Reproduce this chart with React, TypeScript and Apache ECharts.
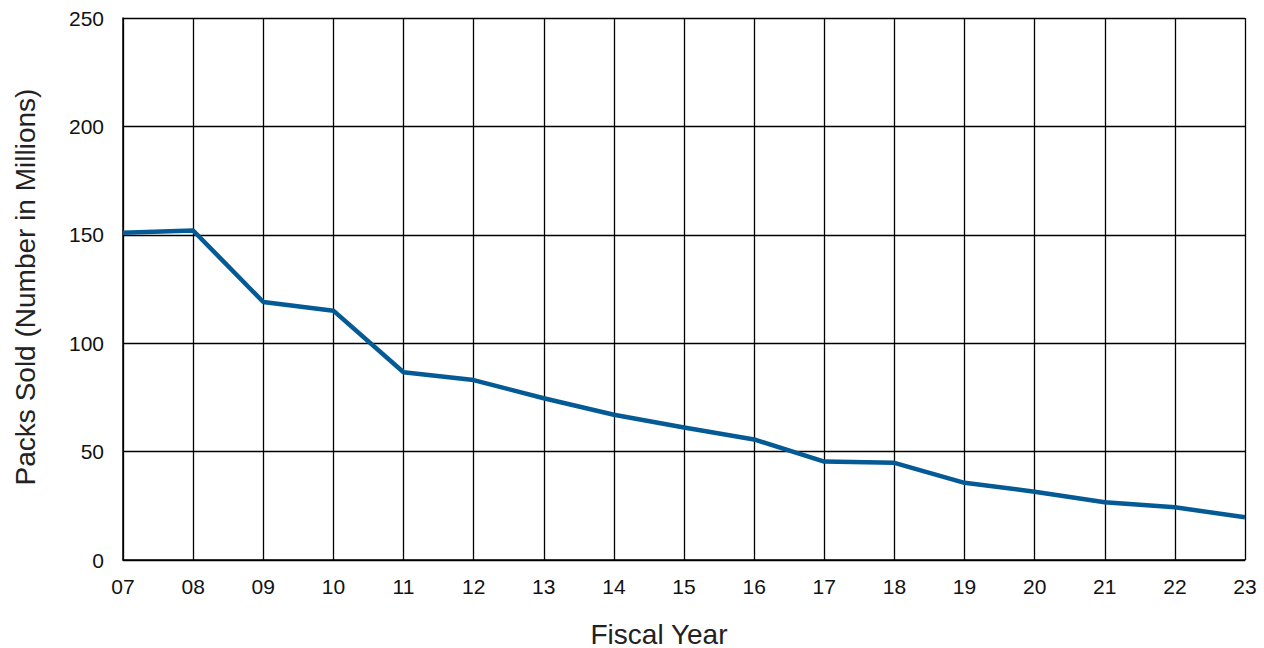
import React, { useEffect, useRef } from "react";
import * as echarts from "echarts";

const years = ["07", "08", "09", "10", "11", "12", "13", "14", "15", "16", "17", "18", "19", "20", "21", "22", "23"];
const packsSold = [151, 152, 119, 115, 86.6, 83, 74.6, 67, 61.1, 55.6, 45.4, 44.8, 35.6, 31.5, 26.6, 24.3, 19.7];
const yTicks = [0, 50, 100, 150, 200, 250];

const FONT = "Liberation Sans, Arial, sans-serif";

export default function App() {
  const ref = useRef<HTMLDivElement>(null);
  useEffect(() => {
    if (!ref.current) return;
    const chart = echarts.init(ref.current, null, { renderer: "svg" });
    chart.setOption({
      animation: false,
      backgroundColor: "#ffffff",
      grid: { left: 123, right: 19, top: 18, bottom: 88, containLabel: false },
      xAxis: {
        type: "category",
        data: years,
        boundaryGap: false,
        axisLine: { show: true, lineStyle: { color: "#000", width: 1.5 } },
        axisTick: { show: false },
        axisLabel: { margin: 16, color: "#111", fontSize: 21, fontFamily: FONT },
        splitLine: { show: true, lineStyle: { color: "#000", width: 1.3 } },
      },
      yAxis: {
        type: "value",
        min: yTicks[0],
        max: yTicks[yTicks.length - 1],
        interval: 50,
        axisLine: { show: true, lineStyle: { color: "#000", width: 1.5 } },
        axisTick: { show: false },
        axisLabel: { margin: 19, color: "#111", fontSize: 21, fontFamily: FONT },
        splitLine: { show: true, lineStyle: { color: "#000", width: 1.3 } },
      },
      graphic: [
        {
          type: "text",
          x: 25,
          y: 287,
          rotation: Math.PI / 2,
          style: {
            text: "Packs Sold (Number in Millions)",
            font: `28px ${FONT}`,
            fill: "#222",
            align: "center",
            verticalAlign: "middle",
          },
        },
        {
          type: "text",
          x: 659,
          y: 634,
          style: {
            text: "Fiscal Year",
            font: `28px ${FONT}`,
            fill: "#222",
            align: "center",
            verticalAlign: "middle",
          },
        },
      ],
      series: [
        {
          type: "line",
          data: packsSold,
          symbol: "none",
          lineStyle: { color: "#045a94", width: 4.5 },
        },
      ],
    });
    return () => chart.dispose();
  }, []);
  return (
    <div
      ref={ref}
      style={{ position: "fixed", left: 0, top: 0, width: 1264, height: 648, background: "#fff" }}
    />
  );
}
